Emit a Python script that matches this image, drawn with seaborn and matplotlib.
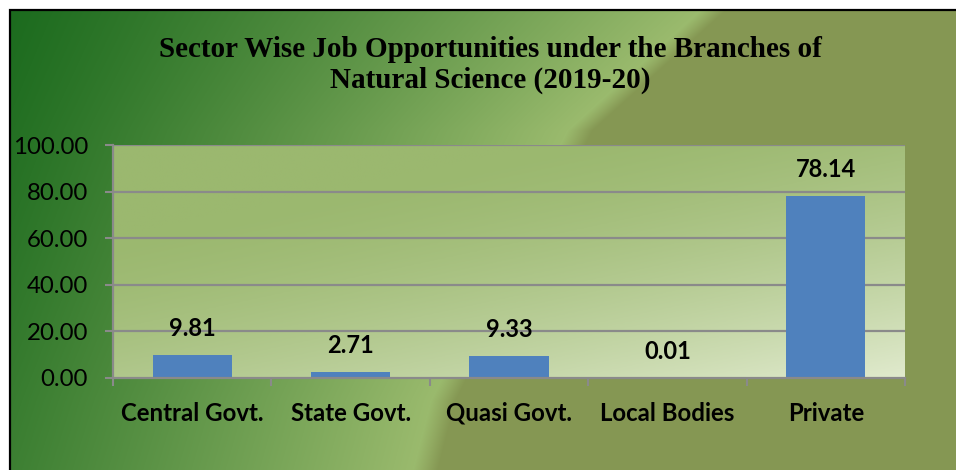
import matplotlib
matplotlib.use("Agg")
import matplotlib.pyplot as plt
import matplotlib.patches as mpatches
import seaborn as sns
import numpy as np
import pandas as pd

# data
sectors = ["Central Govt.", "State Govt.", "Quasi Govt.", "Local Bodies", "Private"]
shares = [9.81, 2.71, 9.33, 0.01, 78.14]
y_ticks = [0, 20, 40, 60, 80, 100]

df = pd.DataFrame({"sector": sectors, "share": shares})

sns.set_theme(style="white")
plt.rcParams["font.family"] = ["Lato", "DejaVu Sans"]
plt.rcParams["text.color"] = "black"

W, H = 956, 470
fig = plt.figure(figsize=(W / 100, H / 100), dpi=100)
fig.patch.set_facecolor("white")


def hex2rgb(h):
    h = h.lstrip("#")
    return np.array([int(h[i:i + 2], 16) / 255 for i in (0, 2, 4)])


# chart area background (green gradient with olive right side)
bg = fig.add_axes([10 / W, 0, (W - 10) / W, (H - 10) / H])
bg.set_axis_off()
gx, gy = np.meshgrid(np.arange(10, W), np.arange(10, H))
x_edge = np.interp(gy, [10, 130, 400, 470], [713, 580, 443, 425])
s = np.clip((gx + 0.35 * gy) / (x_edge + 0.35 * gy), 0, 1)
dark, light, olive = hex2rgb("#1a6a1d"), hex2rgb("#9dbc6f"), hex2rgb("#859753")
left_col = dark + (light - dark) * (s[..., None] ** 1.1)
blend = np.clip((gx - x_edge) / 25 + 0.5, 0, 1)[..., None]
img = left_col * (1 - blend) + olive * blend
bg.imshow(img, extent=[0, 1, 0, 1], aspect="auto", origin="upper")
bg.set_xlim(0, 1)
bg.set_ylim(0, 1)
fig.add_artist(mpatches.Rectangle((10 / W, -0.01), 1, (H - 10) / H + 0.01,
                                  transform=fig.transFigure, fill=False,
                                  edgecolor="black", linewidth=1.6))

# plot area
ax = fig.add_axes([113 / W, 92 / H, 792 / W, 233 / H])
px, py = np.meshgrid(np.linspace(0, 1, 200), np.linspace(0, 1, 100))
u = np.clip(0.55 * px + 0.75 * py - 0.3, 0, 1) ** 1.5
top_c, low_c = hex2rgb("#9bb86f"), hex2rgb("#e0eacd")
area = top_c + (low_c - top_c) * u[..., None]
ax.imshow(area, extent=[-0.5, len(sectors) - 0.5, 0, 100], aspect="auto",
          origin="upper", zorder=0)

for yv in y_ticks[1:]:
    ax.axhline(yv, color="#8a8a8a", linewidth=1.6, zorder=1)

sns.barplot(data=df, x="sector", y="share", color="#4f81bd", width=0.5,
            saturation=1, linewidth=0, ax=ax, zorder=2)
ax.set_xlim(-0.5, len(sectors) - 0.5)
ax.set_ylim(0, 100)

for i, v in enumerate(shares):
    ax.annotate(f"{v:.2f}", (i, v), xytext=(0, 19), textcoords="offset points",
                ha="center", va="center", fontsize=17, fontweight="bold",
                color="black", zorder=3)

ax.set_xlabel("")
ax.set_ylabel("")
ax.set_yticks(y_ticks)
ax.set_yticklabels([f"{v:.2f}" for v in y_ticks], fontsize=17.3)
ax.set_xticks(range(len(sectors)))
ax.set_xticklabels(sectors, fontsize=17.3, fontweight="bold")
ax.set_xticks(np.arange(-0.5, len(sectors)), minor=True)
ax.tick_params(axis="x", which="major", length=0, pad=17, labelcolor="black")
ax.tick_params(axis="x", which="minor", length=6, width=1.5, color="#8a8a8a",
               direction="out", bottom=True)
ax.tick_params(axis="y", length=6, width=1.5, color="#8a8a8a", pad=12,
               direction="out", left=True, labelcolor="black")
for side in ["top", "right"]:
    ax.spines[side].set_visible(False)
for side in ["left", "bottom"]:
    ax.spines[side].set_color("#8a8a8a")
    ax.spines[side].set_linewidth(1.6)
    ax.spines[side].set_zorder(4)

fig.text(490 / W, 1 - 65 / H,
         "Sector Wise Job Opportunities under the Branches of\nNatural Science (2019-20)",
         ha="center", va="center", fontsize=21, fontweight="bold", color="black",
         family=["Liberation Serif", "DejaVu Serif"], linespacing=1.2)

fig.savefig("out.png", dpi=100)
